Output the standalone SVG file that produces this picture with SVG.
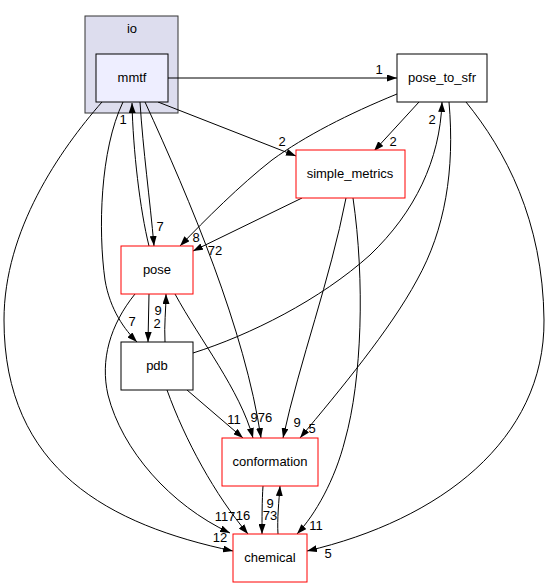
<svg xmlns="http://www.w3.org/2000/svg" width="549" height="588" viewBox="0 0 549 588">
<style>
text{font-family:"Liberation Sans",Arial,sans-serif;font-size:13px;fill:#000;text-anchor:middle}
.node{fill:#fff;stroke:#000;stroke-width:1}
.red{fill:#fff;stroke:#ff0000;stroke-width:1}
.edge{fill:none;stroke:#000;stroke-width:1;marker-end:url(#arr)}
</style>
<defs>
<marker id="arr" viewBox="0 0 10 7" refX="10" refY="3.5" markerWidth="10" markerHeight="7" markerUnits="userSpaceOnUse" orient="auto">
<path d="M0,0 L10,3.5 L0,7 z" fill="#000"/>
</marker>
</defs>
<rect width="549" height="588" fill="#fff"/>
<g id="cluster_io">
<rect x="85" y="16" width="93" height="97" fill="#ddddee" stroke="#333"/>
<text x="132" y="33">io</text>
</g>
<g id="connectors">
<path class="edge" d="M168,78 L397,78"/>
<path class="edge" d="M158,102 L296,156"/>
<path class="edge" d="M419,102 L374,151"/>
<path class="edge" d="M397,94 C348,114 305,136 272,160 C240,185 205,220 180,246"/>
<path class="edge" d="M302,198 L193,251"/>
<path class="edge" d="M140,102 C143,150 150,200 154,246"/>
<path class="edge" d="M149,246 C140,210 133,150 132,103"/>
<path class="edge" d="M123,102 C100,150 98,230 105,280 C110,310 125,330 137,342"/>
<path class="edge" d="M145,102 C190,200 245,330 261,438"/>
<path class="edge" d="M149,294 L148,342"/>
<path class="edge" d="M165,342 C164,325 166,310 166,294"/>
<path class="edge" d="M193,353 C250,335 320,300 370,255 C415,212 440,160 442,102"/>
<path class="edge" d="M449,102 C455,170 445,230 417,280 C390,330 340,390 300,438"/>
<path class="edge" d="M346,198 C330,280 300,360 283,438"/>
<path class="edge" d="M353,198 C365,280 362,380 345,440 C335,480 315,515 297,534"/>
<path class="edge" d="M466,102 C505,150 543,220 544,320 C545,440 440,520 307,551"/>
<path class="edge" d="M175,294 C200,340 240,390 253,438"/>
<path class="edge" d="M135,294 C110,325 100,360 108,395 C122,450 170,505 230,533"/>
<path class="edge" d="M167,390 C185,440 215,495 248,534"/>
<path class="edge" d="M187,390 L243,438"/>
<path class="edge" d="M102,102 C60,150 4,230 4,320 C4,470 110,525 233,551"/>
<path class="edge" d="M263,486 C262,500 262,520 262,534"/>
<path class="edge" d="M278,534 C277,520 279,500 280,486"/>
<text x="379" y="74">1</text>
<text x="282" y="146">2</text>
<text x="393" y="146">2</text>
<text x="432" y="124">2</text>
<text x="123" y="124">1</text>
<text x="160" y="231">7</text>
<text x="196" y="242">8</text>
<text x="215" y="255">72</text>
<text x="132" y="326">7</text>
<text x="158" y="315">9</text>
<text x="157" y="328">2</text>
<text x="234" y="424">11</text>
<text x="254" y="422">9</text>
<text x="265" y="422">76</text>
<text x="297" y="427">9</text>
<text x="312" y="433">5</text>
<text x="225" y="521">117</text>
<text x="243" y="520">16</text>
<text x="220" y="542">12</text>
<text x="316" y="530">11</text>
<text x="328" y="558">5</text>
<text x="270" y="508">9</text>
<text x="270" y="520">73</text>
</g>
<g id="node_mmtf">
<rect x="96" y="54" width="72" height="48" fill="#eeeeff" stroke="#000"/>
<text x="132" y="82">mmtf</text>
</g>
<g id="node_pose_to_sfr">
<rect class="node" x="397" y="54" width="90" height="48"/>
<text x="442" y="82">pose_to_sfr</text>
</g>
<g id="node_simple_metrics">
<rect class="red" x="296" y="150" width="109" height="48"/>
<text x="350" y="178">simple_metrics</text>
</g>
<g id="node_pose">
<rect class="red" x="121" y="246" width="72" height="48"/>
<text x="157" y="274">pose</text>
</g>
<g id="node_pdb">
<rect class="node" x="121" y="342" width="72" height="48"/>
<text x="157" y="370">pdb</text>
</g>
<g id="node_conformation">
<rect class="red" x="222" y="438" width="96" height="48"/>
<text x="270" y="466">conformation</text>
</g>
<g id="node_chemical">
<rect class="red" x="233" y="534" width="74" height="48"/>
<text x="270" y="562">chemical</text>
</g>
</svg>
